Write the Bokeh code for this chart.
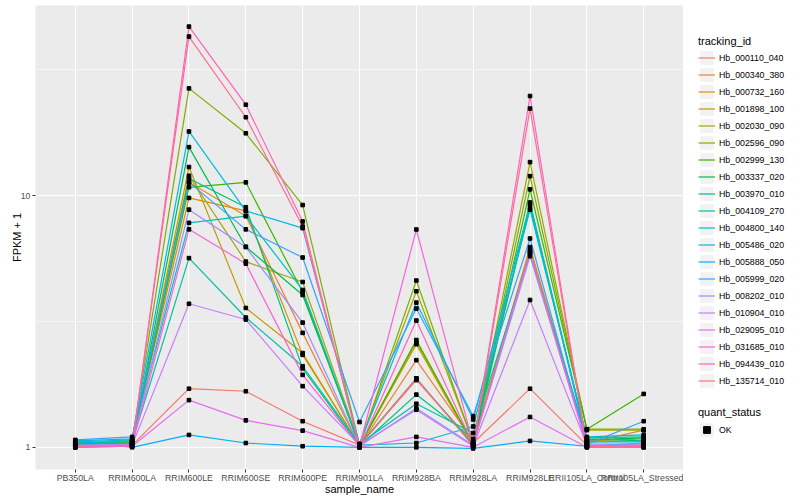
import math
from bokeh.plotting import figure
from bokeh.layouts import row
from bokeh.models import (FactorRange, Range1d, FixedTicker, NumeralTickFormatter,
                          Legend, LegendItem, ColumnDataSource)
from bokeh.embed import file_html
from bokeh.resources import INLINE

samples = ["PB350LA", "RRIM600LA", "RRIM600LE", "RRIM600SE", "RRIM600PE", "RRIM901LA",
           "RRIM928BA", "RRIM928LA", "RRIM928LE", "RRII105LA_Control", "RRII105LA_Stressed"]

tracking_ids = ["Hb_000110_040", "Hb_000340_380", "Hb_000732_160", "Hb_001898_100",
                "Hb_002030_090", "Hb_002596_090", "Hb_002999_130", "Hb_003337_020",
                "Hb_003970_010", "Hb_004109_270", "Hb_004800_140", "Hb_005486_020",
                "Hb_005888_050", "Hb_005999_020", "Hb_008202_010", "Hb_010904_010",
                "Hb_029095_010", "Hb_031685_010", "Hb_094439_010", "Hb_135714_010"]

colors = ["#F8766D", "#EA8331", "#D89000", "#C09B00", "#A3A500", "#7CAE00", "#39B600",
          "#00BB4E", "#00BF7D", "#00C1A3", "#00BFC4", "#00BAE0", "#00B0F6", "#35A2FF",
          "#9590FF", "#C77CFF", "#E76BF3", "#FA62DB", "#FF62BC", "#FF6C91"]

# FPKM + 1 per sample (order of `samples`)
hb_000110_040 = [1.01, 1.02, 1.71, 1.67, 1.27, 1.02, 1.85, 1.04, 1.71, 1.02, 1.02]
hb_000340_380 = [1.03, 1.05, 11.3, 8.3, 2.85, 1.01, 2.22, 1.06, 6.10, 1.04, 1.17]
hb_000732_160 = [1.04, 1.06, 9.8, 8.7, 2.33, 1.02, 2.62, 1.03, 6.25, 1.05, 1.06]
hb_001898_100 = [1.03, 1.04, 13.0, 3.58, 2.37, 1.01, 2.57, 1.02, 5.97, 1.06, 1.08]
hb_002030_090 = [1.02, 1.05, 12.0, 5.47, 4.54, 1.03, 4.17, 1.05, 13.6, 1.17, 1.17]
hb_002596_090 = [1.04, 1.06, 26.7, 17.7, 9.18, 1.02, 4.60, 1.04, 11.96, 1.18, 1.18]
hb_002999_130 = [1.03, 1.04, 10.8, 11.3, 4.14, 1.01, 2.67, 1.03, 10.6, 1.18, 1.63]
hb_003337_020 = [1.02, 1.03, 15.6, 6.27, 4.03, 1.02, 1.88, 1.02, 9.40, 1.07, 1.09]
hb_003970_010 = [1.03, 1.04, 11.7, 9.0, 2.06, 1.01, 1.62, 1.08, 9.00, 1.08, 1.06]
hb_004109_270 = [1.04, 1.05, 5.65, 3.28, 2.10, 1.03, 1.49, 1.14, 5.90, 1.09, 1.10]
hb_004800_140 = [1.05, 1.07, 7.8, 8.3, 4.22, 1.02, 1.04, 1.21, 8.80, 1.10, 1.12]
hb_005486_020 = [1.06, 1.08, 18.0, 8.7, 7.43, 1.03, 3.76, 1.29, 9.25, 1.05, 1.05]
hb_005888_050 = [1.06, 1.00, 1.12, 1.04, 1.01, 1.00, 1.00, 0.99, 1.06, 1.01, 1.04]
hb_005999_020 = [1.07, 1.10, 11.3, 7.35, 5.68, 1.26, 3.56, 1.33, 6.76, 1.03, 1.27]
hb_008202_010 = [1.02, 1.03, 8.8, 6.25, 3.13, 1.01, 1.43, 1.02, 5.75, 1.03, 1.03]
hb_010904_010 = [1.01, 1.02, 3.72, 3.22, 1.75, 1.02, 1.41, 1.01, 3.85, 1.02, 1.01]
hb_029095_010 = [1.00, 1.01, 1.54, 1.28, 1.165, 1.00, 1.10, 1.00, 1.32, 1.00, 1.00]
hb_031685_010 = [1.00, 1.02, 7.35, 5.37, 1.94, 1.01, 7.34, 1.03, 6.00, 1.01, 1.02]
hb_094439_010 = [1.00, 1.01, 47.0, 23.0, 7.9, 1.00, 3.19, 1.02, 24.9, 1.00, 1.01]
hb_135714_010 = [1.01, 1.02, 42.9, 20.5, 7.54, 1.01, 1.88, 1.01, 22.2, 1.01, 1.00]

series = [hb_000110_040, hb_000340_380, hb_000732_160, hb_001898_100, hb_002030_090,
          hb_002596_090, hb_002999_130, hb_003337_020, hb_003970_010, hb_004109_270,
          hb_004800_140, hb_005486_020, hb_005888_050, hb_005999_020, hb_008202_010,
          hb_010904_010, hb_029095_010, hb_031685_010, hb_094439_010, hb_135714_010]

quant_status = ["OK"]

FONT = "Liberation Sans"
NAN = float("nan")

allv = [v for s in series for v in s]
lo, hi = math.log10(min(allv)), math.log10(max(allv))
pad = 0.05 * (hi - lo)

p = figure(x_range=FactorRange(factors=samples, range_padding=0.2, range_padding_units="absolute"),
           y_axis_type="log", y_range=Range1d(10 ** (lo - pad), 10 ** (hi + pad)),
           frame_width=648, frame_height=464,
           min_border_left=35, min_border_right=0, min_border_top=5, min_border_bottom=20,
           output_backend="svg", toolbar_location=None)

p.background_fill_color = "#EBEBEB"
p.border_fill_color = "white"
p.outline_line_color = None

ticker = FixedTicker(ticks=[1, 10], minor_ticks=[10 ** 0.5, 10 ** 1.5])
p.yaxis.ticker = ticker
p.ygrid.ticker = ticker
p.yaxis.formatter = NumeralTickFormatter(format="0")

for g in (p.xgrid, p.ygrid):
    g.grid_line_color = "white"
    g.grid_line_width = 1.1
p.ygrid.minor_grid_line_color = "white"
p.ygrid.minor_grid_line_width = 0.55

for ax in (p.xaxis, p.yaxis):
    ax.axis_line_color = None
    ax.major_tick_line_color = "#333333"
    ax.major_tick_out = 3
    ax.major_tick_in = 0
    ax.minor_tick_line_color = None
    ax.major_label_text_font = FONT
    ax.major_label_text_font_size = "8.8px"
    ax.major_label_text_color = "#4D4D4D"
    ax.axis_label_text_font = FONT
    ax.axis_label_text_font_size = "11px"
    ax.axis_label_text_font_style = "normal"
    ax.axis_label_text_color = "black"

p.xaxis.major_label_standoff = 0
p.xaxis.axis_label_standoff = -3
p.yaxis.major_label_standoff = 1
p.yaxis.axis_label_standoff = -5

p.xaxis.axis_label = "sample_name"
p.yaxis.axis_label = "FPKM + 1"

for tid, col, vals in zip(tracking_ids, colors, series):
    p.line(x=samples, y=vals, line_color=col, line_width=1.2)

px, py, ps = [], [], []
for vals in series:
    px.extend(samples)
    py.extend(vals)
    ps.extend([quant_status[0]] * len(samples))
src = ColumnDataSource(dict(x=px, y=py, status=ps))
p.scatter(x="x", y="y", source=src, marker="square", size=3.6, color="black")

# legend panel (separate figure so the legends sit beside the plot panel)
q = figure(width=112, height=494, x_range=Range1d(0, 1), y_range=Range1d(0, 1),
           min_border_left=0, min_border_right=0, min_border_top=0, min_border_bottom=0,
           x_axis_location=None, y_axis_location=None,
           output_backend="svg", toolbar_location=None)
q.outline_line_color = None
q.xgrid.visible = False
q.ygrid.visible = False
q.background_fill_color = "white"

# legend-key proxies (NaN -> nothing drawn in the panel itself)
bg = q.quad(left=[NAN], right=[NAN], top=[NAN], bottom=[NAN], fill_color="#F2F2F2", line_color=None)
line_items = []
for tid, col in zip(tracking_ids, colors):
    r = q.line(x=[NAN, NAN], y=[NAN, NAN], line_color=col, line_width=1.2)
    line_items.append(LegendItem(label=tid, renderers=[bg, r]))
pt_r = q.scatter(x=[NAN], y=[NAN], marker="square", size=4, color="black")


def style_legend(lg):
    lg.title_text_font = FONT
    lg.title_text_font_size = "11px"
    lg.title_text_font_style = "normal"
    lg.title_text_color = "black"
    lg.label_text_font = FONT
    lg.label_text_font_size = "8.8px"
    lg.label_text_color = "black"
    lg.glyph_width = 17
    lg.glyph_height = 17
    lg.label_height = 17
    lg.label_standoff = 4
    lg.spacing = 0
    lg.padding = 0
    lg.margin = 0
    lg.border_line_color = None
    lg.background_fill_alpha = 0


leg1 = Legend(items=line_items, title="tracking_id", location=(15, 77))
style_legend(leg1)
leg1.title_standoff = 2
q.add_layout(leg1, "center")

leg2 = Legend(items=[LegendItem(label=quant_status[0], renderers=[bg, pt_r])],
              title="quant_status", location=(15, 28))
style_legend(leg2)
leg2.title_standoff = 3
q.add_layout(leg2, "center")

layout = row(p, q)
open("out.html", "w").write(file_html(layout, INLINE))
